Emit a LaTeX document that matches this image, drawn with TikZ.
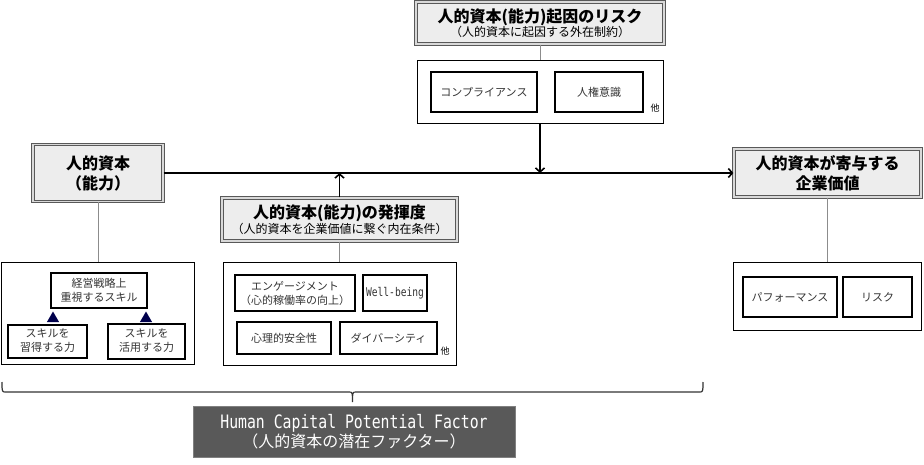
\documentclass[tikz,border=0pt]{standalone}
\usepackage{fontspec}
\setmainfont{Noto Sans CJK JP}
\newfontfamily\latinmono{DejaVu Sans Mono}[FakeStretch=0.8]
\usepackage{tikz}
\usetikzlibrary{positioning,calc,arrows.meta,shapes.geometric,decorations.pathreplacing}
\tikzset{
  head/.style={draw=black!65, double=black!15, double distance=1.1pt, line width=1.2pt, fill=black!7, align=center, inner sep=0pt},
  bighead/.style={head, font=\bfseries\fontsize{16}{20}\selectfont},
  group/.style={draw, line width=0.7pt, inner sep=0pt},
  inbox/.style={draw, line width=2pt, align=center, inner sep=0pt, text=black!80, font=\fontsize{11}{14}\selectfont},
  link/.style={draw=black!45, line width=0.7pt},
  flow/.style={line width=1.6pt, -{Straight Barb[length=4pt,width=9pt]}},
  tri/.style={regular polygon, regular polygon sides=3, minimum size=14pt, inner sep=0pt, fill=blue!30!black},
  other/.style={inner sep=0pt, font=\fontsize{9}{10}\selectfont},
  factor/.style={draw=black!50, line width=0.8pt, fill=black!65, text=white, align=center, inner sep=0pt},
  bracket/.style={line width=1.2pt, draw=black!80}
}
\newcommand{\ibox}[5]{\node [inbox, minimum width=#3pt, minimum height=#4pt] (#1) at (#2) {#5}}
\newcommand{\gbox}[4]{\node [group, minimum width=#3pt, minimum height=#4pt] (#1) at (#2) {}}

\begin{document}
\begin{tikzpicture}[x=1pt, y=-1pt]
\useasboundingbox (0,0) rectangle (924,465);

\node [head, minimum width=248pt, minimum height=42pt] (riskhead) at (540,23)
  {{\bfseries\fontsize{16}{17}\selectfont 人的資本(能力)起因のリスク}\\{\fontsize{12}{13}\selectfont （人的資本に起因する外在制約）}};
\gbox{riskgrp}{540,91.5}{246}{63};
\ibox{comp}{484,92}{106}{40}{コンプライアンス};
\ibox{rights}{599,92}{88}{40}{人権意識};
\node [other] (etc1) at (655,108) {他};

\node [bighead, minimum width=130pt, minimum height=57pt] (cap) at (98,173) {人的資本\\（能力）};
\gbox{capgrp}{98,313}{193}{102};
\ibox{keiei}{99,290.5}{96}{35}{経営戦略上\\重視するスキル};
\ibox{acquire}{47.5,341}{79}{33}{スキルを\\習得する力};
\ibox{apply}{146.5,341}{77}{35}{スキルを\\活用する力};
\node [tri] (t1) at (53,318.5) {};
\node [tri] (t2) at (146,318.5) {};

\node [head, minimum width=235pt, minimum height=43pt] (hakki) at (339.5,219.5)
  {{\bfseries\fontsize{16}{17}\selectfont 人的資本(能力)の発揮度}\\{\fontsize{12}{13}\selectfont （人的資本を企業価値に繋ぐ内在条件）}};
\gbox{hakkigrp}{339.5,313.5}{233}{103};
\ibox{engage}{295,293}{120}{36}{エンゲージメント\\（心的稼働率の向上）};
\ibox{well}{395,293}{64}{36}{\latinmono\fontsize{12}{14}\selectfont Well-being};
\ibox{safety}{284,338}{94}{32}{心理的安全性};
\ibox{diverse}{388.5,338}{97}{32}{ダイバーシティ};
\node [other] (etc2) at (445,351) {他};

\node [bighead, minimum width=187pt, minimum height=48pt] (value) at (827.5,173) {人的資本が寄与する\\企業価値};
\gbox{valuegrp}{827.5,296}{188}{68};
\ibox{perf}{790,297}{94}{40}{パフォーマンス};
\ibox{risk}{877.5,297}{69}{40}{リスク};

\node [factor, minimum width=322pt, minimum height=51pt] (hcpf) at (354,431.5)
  {{\latinmono\fontsize{18.5}{22}\selectfont Human Capital Potential Factor}\\{\fontsize{16}{18}\selectfont （人的資本の潜在ファクター）}};

\draw[link] (riskhead.south) -- (riskgrp.north);
\draw[link] (cap.south) -- (capgrp.north);
\draw[link] (hakki.south) -- (hakkigrp.north);
\draw[link] (value.south) -- (valuegrp.north);

\draw[flow] (cap.east) -- (value.west);
\draw[flow] (riskgrp.south) -- (riskgrp.south |- cap.east);
\draw[flow] (hakki.north) -- (hakki.north |- cap.east);

\coordinate (bl) at (2,382);
\coordinate (br) at (703,382);
\coordinate (tip) at (352.5,402);
\draw[bracket] (bl) .. controls ($(bl)+(0,10)$) .. ($(bl)+(4,10)$) -- ($(tip)+(-4,-10)$)
  .. controls ($(tip)+(0,-10)$) .. (tip) .. controls ($(tip)+(0,-10)$) .. ($(tip)+(4,-10)$)
  -- ($(br)+(-4,10)$) .. controls ($(br)+(0,10)$) .. (br);

\end{tikzpicture}
\end{document}
